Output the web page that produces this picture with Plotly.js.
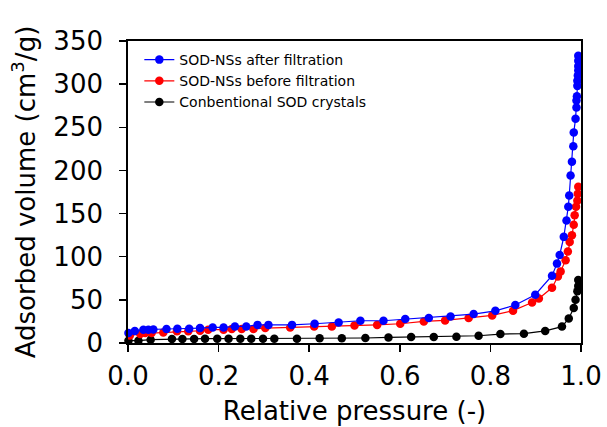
<!DOCTYPE html>
<html>
<head>
<meta charset="utf-8">
<script src="https://cdn.plot.ly/plotly-3.0.1.min.js"></script>
<style>html,body{margin:0;padding:0;background:#fff;}#chart{width:607px;height:427px;}</style>
</head>
<body>
<div id="chart"></div>
<script>
var seriesNames = ["SOD-NSs after filtration", "SOD-NSs before filtration", "Conbentional SOD crystals"];
var seriesColors = ["#0000ff", "#ff0000", "#000000"];

var afterX = [0.001, 0.015, 0.034, 0.045, 0.056, 0.085, 0.109, 0.135, 0.159, 0.187, 0.211, 0.236, 0.261, 0.286, 0.310, 0.362, 0.412, 0.465, 0.513, 0.564, 0.612, 0.664, 0.712, 0.763, 0.811, 0.855, 0.899, 0.936, 0.947, 0.953, 0.962, 0.968, 0.972, 0.974, 0.977, 0.980, 0.983, 0.984, 0.988, 0.990, 0.990, 0.991, 0.992, 0.992, 0.993, 0.994, 0.994, 0.994, 0.994];
var afterY = [11.5, 14, 15.4, 15.4, 15.6, 16.2, 16.5, 16.5, 17.3, 18, 18, 19.2, 19.2, 21, 21, 21, 22.3, 23.8, 25.8, 25.8, 27.7, 28.9, 30.8, 33.5, 37.3, 44, 56, 78, 92, 102, 123, 142, 158, 171, 194, 210, 228, 244, 260, 273, 281, 286, 298, 304, 310, 316, 321, 327, 333];

var beforeX = [0.004, 0.027, 0.038, 0.052, 0.078, 0.108, 0.133, 0.159, 0.177, 0.211, 0.229, 0.251, 0.277, 0.303, 0.358, 0.411, 0.450, 0.500, 0.550, 0.601, 0.653, 0.700, 0.752, 0.804, 0.850, 0.892, 0.907, 0.936, 0.949, 0.955, 0.966, 0.971, 0.975, 0.980, 0.984, 0.986, 0.989, 0.992, 0.993, 0.994];
var beforeY = [8.8, 10.4, 11.5, 11.5, 12.3, 13.5, 13.5, 14.2, 15.4, 15.4, 16.2, 16.2, 16.2, 17.3, 18, 19.2, 19.2, 20.4, 21, 22.3, 25, 26.2, 28.9, 32, 37.5, 47, 51.5, 64, 77, 83, 96, 106, 117, 125, 137, 148, 158, 165, 173, 181];

var convX = [0.001, 0.023, 0.050, 0.097, 0.120, 0.146, 0.170, 0.197, 0.222, 0.248, 0.272, 0.298, 0.323, 0.373, 0.423, 0.472, 0.524, 0.575, 0.625, 0.675, 0.725, 0.774, 0.822, 0.874, 0.921, 0.958, 0.973, 0.984, 0.988, 0.992, 0.994, 0.994];
var convY = [2.7, 2.7, 3.8, 4.6, 4.6, 4.6, 5, 5, 5, 5, 5, 5, 5, 5, 5.5, 5.5, 5.8, 6.5, 6.9, 6.9, 7.3, 8.4, 10.4, 10.8, 14, 19, 28.5, 40.5, 50, 60, 66, 73];

var xTickVals = [0, 0.2, 0.4, 0.6, 0.8, 1.0];
var xTickText = ["0.0", "0.2", "0.4", "0.6", "0.8", "1.0"];
var yTickVals = [0, 50, 100, 150, 200, 250, 300, 350];

var xs = [afterX, beforeX, convX];
var ys = [afterY, beforeY, convY];
var traces = xs.map(function (x, i) {
  return {
    x: x, y: ys[i], name: seriesNames[i], type: "scatter", mode: "lines+markers",
    line: {color: seriesColors[i], width: 1.2},
    marker: {color: seriesColors[i], size: 8.5},
    cliponaxis: false
  };
});
traces.reverse();

var font = "DejaVu Sans, sans-serif";
var layout = {
  width: 607, height: 427,
  margin: {l: 127.5, r: 26, t: 40.7, b: 83.7},
  paper_bgcolor: "#ffffff", plot_bgcolor: "#ffffff",
  font: {family: font, color: "#000000"},
  showlegend: true,
  legend: {
    x: 0.025, y: 0.99, xanchor: "left", yanchor: "top",
    traceorder: "reversed",
    font: {family: font, size: 14, color: "#000000"},
    bgcolor: "rgba(0,0,0,0)", borderwidth: 0
  },
  xaxis: {
    range: [0, 1], tickvals: xTickVals, ticktext: xTickText,
    showgrid: false, zeroline: false,
    showline: true, linecolor: "#000000", linewidth: 1.8, mirror: true,
    ticks: "outside", ticklen: 7, tickwidth: 1.5, tickcolor: "#000000",
    ticklabelstandoff: 2,
    tickfont: {family: font, size: 26, color: "#000000"},
    title: {text: "Relative pressure (-)", font: {family: font, size: 26, color: "#000000"}, standoff: 12}
  },
  yaxis: {
    range: [0, 350], tickvals: yTickVals,
    showgrid: false, zeroline: false,
    showline: true, linecolor: "#000000", linewidth: 1.8, mirror: true,
    ticks: "outside", ticklen: 7, tickwidth: 1.5, tickcolor: "#000000",
    ticklabelstandoff: 11,
    tickfont: {family: font, size: 26, color: "#000000"},
    title: {text: "Adsorbed volume (cm<sup>3</sup>/g)", font: {family: font, size: 26, color: "#000000"}, standoff: 10}
  }
};

Plotly.newPlot("chart", traces, layout, {displayModeBar: false, staticPlot: true});
</script>
</body>
</html>
